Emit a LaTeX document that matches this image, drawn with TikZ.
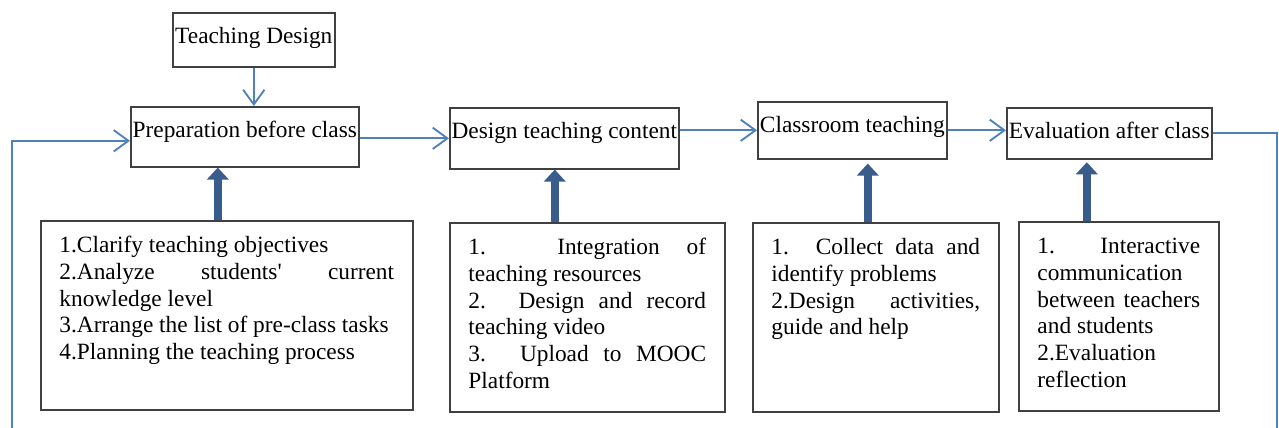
\documentclass[tikz,border=0pt]{standalone}
\usepackage{fontspec}
\setmainfont{Liberation Serif}
\usetikzlibrary{arrows.meta}
\definecolor{flowline}{RGB}{79,129,189}
\definecolor{liftarrow}{RGB}{56,93,140}
\definecolor{boxline}{RGB}{64,64,64}
\tikzstyle{stage}=[draw=boxline, line width=1.2pt, inner sep=0pt, anchor=north west, text height=23.25pt, font=\fontsize{17.5}{20}\selectfont]
\tikzstyle{tasks}=[draw=boxline, line width=1.2pt, inner xsep=14pt, inner ysep=0pt, anchor=north west, font=\fontsize{17.5}{20}\selectfont]
\tikzstyle{flow}=[draw=flowline, line width=1.4pt, -{Straight Barb[length=11pt,width=16pt]}]
\tikzstyle{lift}=[draw=liftarrow, line width=6pt, -{Triangle[length=9pt,width=16pt]}]
\newcommand{\tasklist}[2]{\parbox[c][141.75pt][t]{#1}{\rule{0pt}{24pt}#2}}

\begin{document}
\begin{tikzpicture}[x=0.75pt, y=-0.75pt]
            \path[use as bounding box, fill=white] (0,0) rectangle (1279,428);
            % stages
            \node[stage, minimum width=121.5pt, text depth=17.25pt] (design) at (172,12) {Teaching Design};
            \node[stage, minimum width=171pt, text depth=21.75pt] (prep) at (130,106) {Preparation before class};
            \node[stage, minimum width=171.75pt, text depth=22.5pt] (content) at (449,107) {Design teaching content};
            \node[stage, minimum width=141.75pt, text depth=19.5pt] (classroom) at (757,101) {Classroom teaching};
            \node[stage, minimum width=153.75pt, text depth=15pt] (evaluation) at (1006,107) {Evaluation after class};
            % task lists
            \node[tasks] (preptasks) at (40,220) {\tasklist{251pt}{1.Clarify teaching objectives\par
                2.Analyze students\textquotesingle{} current\linebreak knowledge level\par
                3.Arrange the list of pre-class tasks\par
                4.Planning the teaching process}};
            \node[tasks] (contenttasks) at (449,222) {\tasklist{178.25pt}{1. Integration of\linebreak teaching resources\par
                2. Design and record\linebreak teaching video\par
                3. Upload to MOOC\linebreak Platform}};
            \node[tasks] (classtasks) at (752,222) {\tasklist{156.5pt}{1. Collect data and\linebreak identify problems\par
                2.Design activities,\linebreak guide and help}};
            \node[tasks] (evaltasks) at (1018,221) {\tasklist{122pt}{1. Interactive\linebreak communication\\
                between teachers\linebreak and students\par
                2.Evaluation\\ reflection}};
            \coordinate (loopL) at (12,428);
            \coordinate (loopR) at (1277,428);
            % flow
            \draw[flow] (design.south) -- (design.south |- prep.north);
            \draw[flow] (loopL) |- ([yshift=-3pt]prep.west);
            \draw[flow] (prep.east |- content.west) -- (content.west);
            \draw[flow] (content.east |- classroom.west) -- (classroom.west);
            \draw[flow] (classroom.east) -- (classroom.east -| evaluation.west);
            \draw[flow, -] (evaluation.east) -| (loopR);
            % lifts
            \draw[lift] ([xshift=-6.75pt]preptasks.north) -- ([xshift=-6.75pt]preptasks.north |- prep.south);
            \draw[lift] ([xshift=-24.4pt]contenttasks.north) -- ([xshift=-24.4pt]contenttasks.north |- content.south);
            \draw[lift, shorten >=3pt] ([xshift=-6pt]classtasks.north) -- ([xshift=-6pt]classtasks.north |- classroom.south);
            \draw[lift, shorten >=2pt] ([xshift=-24pt]evaltasks.north) -- ([xshift=-24pt]evaltasks.north |- evaluation.south);
        \end{tikzpicture}
\end{document}
